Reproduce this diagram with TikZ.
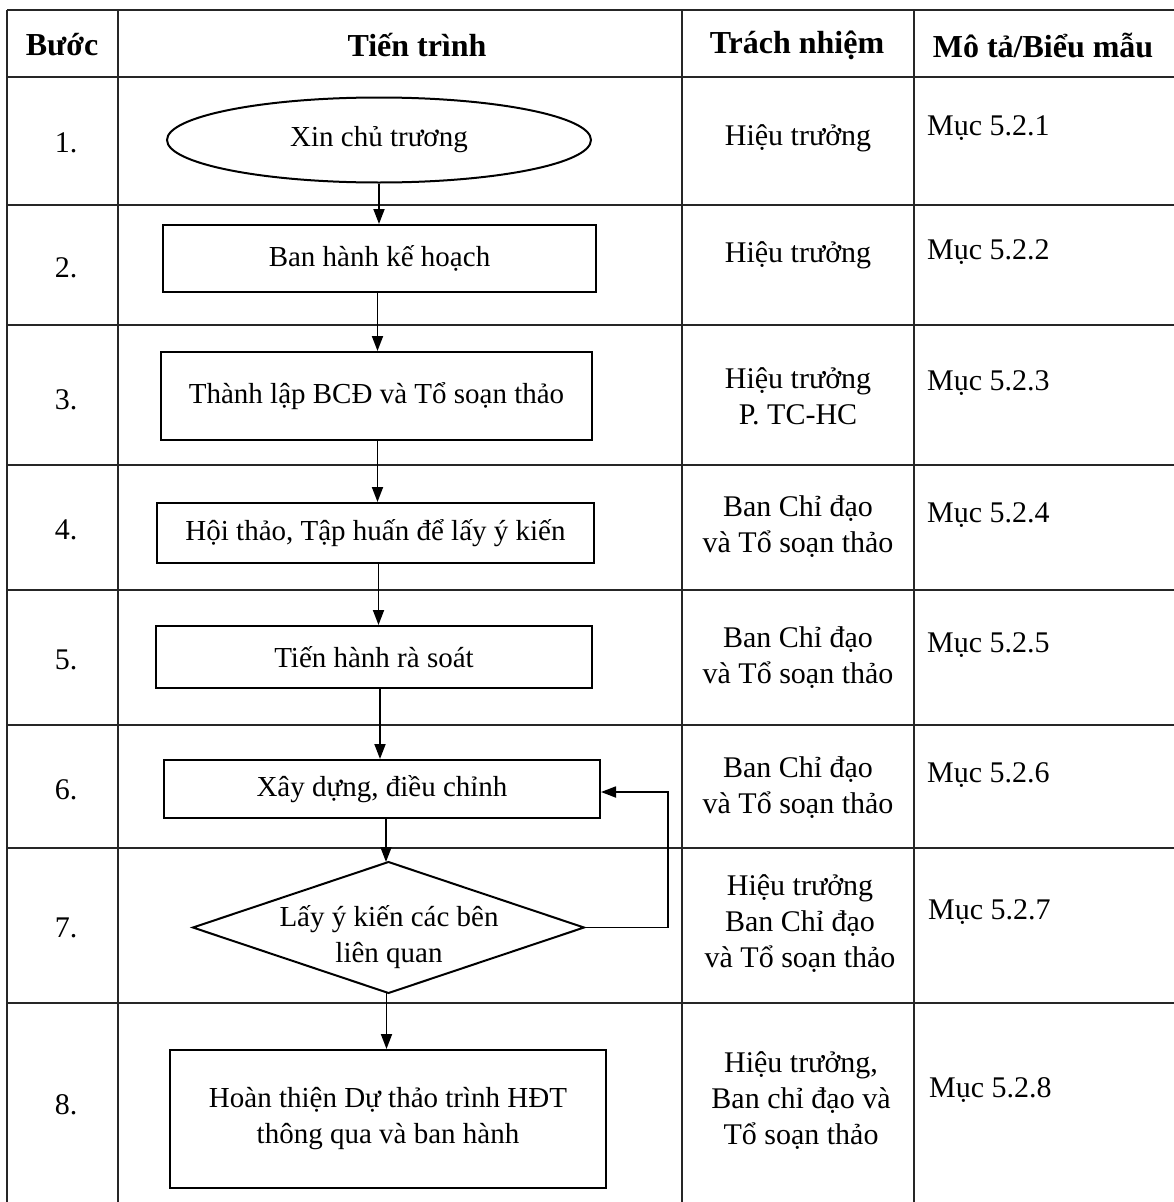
\documentclass[tikz,border=0pt]{standalone}
\usepackage{fontspec}
\setmainfont{Liberation Serif}
\usetikzlibrary{shapes.geometric,arrows.meta}
\begin{document}
\begin{tikzpicture}[x=1pt,y=-1pt,
  grid/.style={line width=1.4pt,draw=black!85},
  shp/.style={draw,line width=2pt,inner sep=0pt,align=center,font=\fontsize{29}{36}\selectfont},
  txt/.style={inner sep=0pt,align=center,font=\fontsize{30}{36}\selectfont},
  hdr/.style={inner sep=0pt,align=center,font=\fontsize{32}{36}\selectfont\bfseries},
  desc/.style={inner sep=0pt,anchor=west,font=\fontsize{30}{36}\selectfont},
  arr/.style={line width=1.8pt,-{Triangle[length=15pt,width=11pt]}}]
\useasboundingbox (0,0) rectangle (1174,1202);
\fill[white] (0,0) rectangle (1174,1202);
% table grid
\foreach \y in {10,77,205,325,465,590,725,848,1003}
  \draw[grid] (7,\y) -- (1180,\y);
\foreach \x in {7,118,682,914}
  \draw[grid] (\x,10) -- (\x,1210);
% header
\node[hdr] (h1) at (62,45) {Bước};
\node[hdr] (h2) at (417,45) {Tiến trình};
\node[hdr] (h3) at (797,45) {Trách nhiệm};
\node[hdr] (h4) at (1043,45) {Mô tả/Biểu mẫu};
% step numbers
\node[txt] (n1) at (66,143) {1.};
\node[txt] (n2) at (66,268) {2.};
\node[txt] (n3) at (66,400) {3.};
\node[txt] (n4) at (66,530) {4.};
\node[txt] (n5) at (66,660) {5.};
\node[txt] (n6) at (66,790) {6.};
\node[txt] (n7) at (66,928) {7.};
\node[txt] (n8) at (66,1105) {8.};
% flowchart
\node[shp,ellipse,minimum width=424pt,minimum height=85pt] (s1) at (379,140) {Xin chủ trương};
\node[shp,rectangle,minimum width=433pt,minimum height=67pt] (s2) at (379.5,258.5) {Ban hành kế hoạch};
\node[shp,rectangle,minimum width=431pt,minimum height=88pt] (s3) at (376.5,396) {Thành lập BCĐ và Tổ soạn thảo};
\node[shp,rectangle,minimum width=437pt,minimum height=60pt] (s4) at (375.5,533) {Hội thảo, Tập huấn để lấy ý kiến};
\node[shp,rectangle,minimum width=436pt,minimum height=62pt] (s5) at (374,657) {Tiến hành rà soát};
\node[shp,rectangle,minimum width=436pt,minimum height=58pt] (s6) at (382,789) {Xây dựng, điều chỉnh};
\node[inner sep=0pt,outer sep=0pt,minimum width=391pt,minimum height=131pt] (s7) at (388.5,927.5) {};
\draw[line width=2pt,line join=miter] (s7.north) -- (s7.east) -- (s7.south) -- (s7.west) -- cycle;
\node[shp,draw=none] (s7t) at (389,937) {Lấy ý kiến các bên\\liên quan};
\node[shp,rectangle,minimum width=436pt,minimum height=138pt] (s8) at (388,1119) {Hoàn thiện Dự thảo trình HĐT\\thông qua và ban hành};
% connectors
\draw[arr] (s1.south) -- (s1.south |- s2.north);
\draw[arr] ([xshift=-2pt]s2.south) -- ([xshift=-2pt]s2.south |- s3.north);
\draw[arr] ([xshift=1pt]s3.south) -- ([xshift=1pt]s3.south |- s4.north);
\draw[arr] ([xshift=3pt]s4.south) -- ([xshift=3pt]s4.south |- s5.north);
\draw[arr] ([xshift=6pt]s5.south) -- ([xshift=6pt]s5.south |- s6.north);
\draw[arr] ([xshift=4pt]s6.south) -- ([xshift=4pt]s6.south |- s7.north);
\draw[arr] ([xshift=-2pt]s7.south) -- ([xshift=-2pt]s7.south |- s8.north);
\coordinate (fb) at (668,927.5);
\draw[arr] (s7.east) -- (fb) |- ([yshift=-3pt]s6.east);
% responsibility
\node[txt] (r1) at (798,138) {Hiệu trưởng};
\node[txt] (r2) at (798,255) {Hiệu trưởng};
\node[txt] (r3) at (798,396) {Hiệu trưởng\\P. TC-HC};
\node[txt] (r4) at (798,527) {Ban Chỉ đạo\\và Tổ soạn thảo};
\node[txt] (r5) at (798,658) {Ban Chỉ đạo\\và Tổ soạn thảo};
\node[txt] (r6) at (798,788) {Ban Chỉ đạo\\và Tổ soạn thảo};
\node[txt] (r7) at (800,924) {Hiệu trưởng\\Ban Chỉ đạo\\và Tổ soạn thảo};
\node[txt] (r8) at (801,1101) {Hiệu trưởng,\\Ban chỉ đạo và\\Tổ soạn thảo};
% description
\node[desc] (d1) at (927,128) {Mục 5.2.1};
\node[desc] (d2) at (927,252) {Mục 5.2.2};
\node[desc] (d3) at (927,383) {Mục 5.2.3};
\node[desc] (d4) at (927,515) {Mục 5.2.4};
\node[desc] (d5) at (927,645) {Mục 5.2.5};
\node[desc] (d6) at (927,775) {Mục 5.2.6};
\node[desc] (d7) at (928,912) {Mục 5.2.7};
\node[desc] (d8) at (929,1090) {Mục 5.2.8};
\end{tikzpicture}
\end{document}
